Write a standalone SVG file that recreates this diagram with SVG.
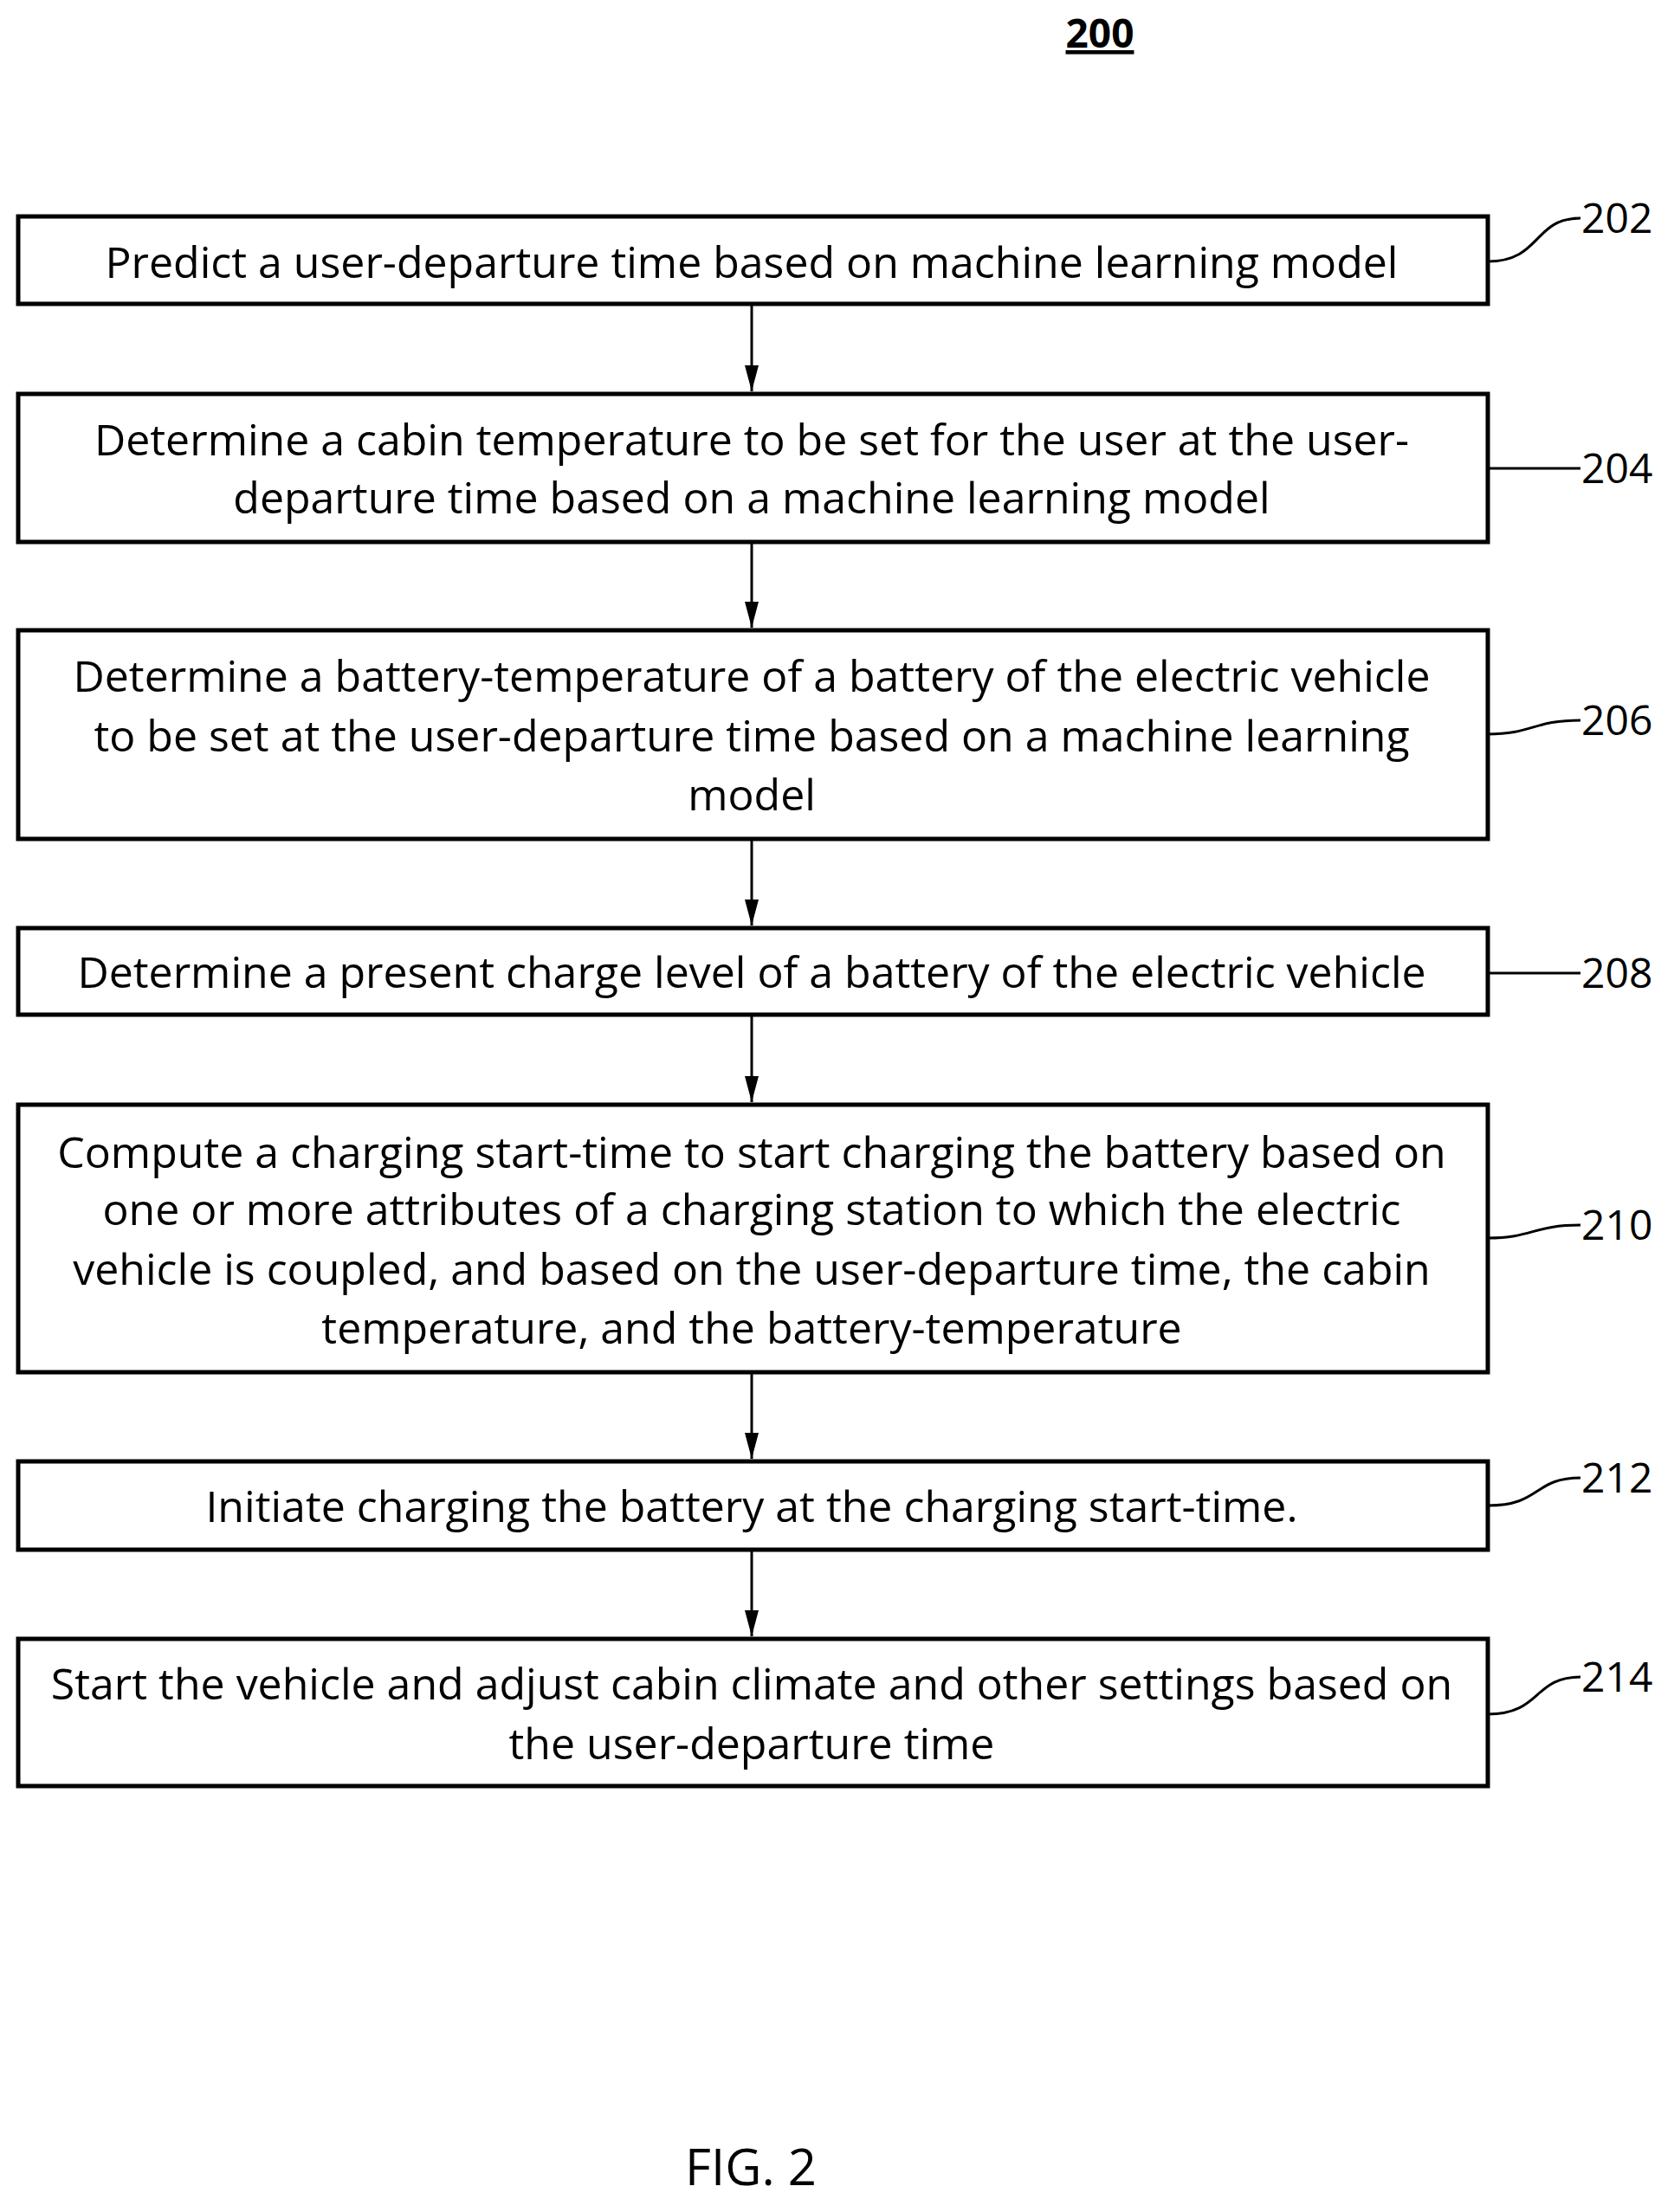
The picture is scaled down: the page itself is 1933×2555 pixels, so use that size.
<svg xmlns="http://www.w3.org/2000/svg" width="1933" height="2555" viewBox="0 0 1933 2555">
<style>
.b{fill:#fff;stroke:#000;stroke-width:5}
.t{font-family:"Open Sans","Liberation Sans",sans-serif;font-size:50px;text-anchor:middle;fill:#000}
.l{font-family:"Open Sans","Liberation Sans",sans-serif;font-size:48px;fill:#000}
.c{fill:none;stroke:#000;stroke-width:3}
.a{stroke:#000;stroke-width:3;marker-end:url(#ar2)}
</style>
<defs>
<marker id="ar2" viewBox="0 0 30 16" refX="30" refY="8" markerWidth="30" markerHeight="16" orient="auto" markerUnits="userSpaceOnUse"><path d="M0,0 L30,8 L0,16 z" fill="#000"/></marker></defs>
<rect width="1933" height="2555" fill="#fff"/>
<text x="1270" y="55" style="font-family:'Open Sans','Liberation Sans',sans-serif;font-size:46px;font-weight:bold;text-anchor:middle;text-decoration:underline">200</text>
<g id="n202"><rect class="b" x="21" y="250" width="1697" height="101"/><text class="t" x="868" y="321">Predict a user-departure time based on machine learning model</text></g>
<g id="n204"><rect class="b" x="21" y="455" width="1697" height="171"/><text class="t" x="868" y="526">Determine a cabin temperature to be set for the user at the user-</text><text class="t" x="868" y="593">departure time based on a machine learning model</text></g>
<g id="n206"><rect class="b" x="21" y="728" width="1697" height="241"/><text class="t" x="868" y="799">Determine a battery-temperature of a battery of the electric vehicle</text><text class="t" x="868" y="868">to be set at the user-departure time based on a machine learning</text><text class="t" x="868" y="936">model</text></g>
<g id="n208"><rect class="b" x="21" y="1072" width="1697" height="100"/><text class="t" x="868" y="1141">Determine a present charge level of a battery of the electric vehicle</text></g>
<g id="n210"><rect class="b" x="21" y="1276" width="1697" height="309"/><text class="t" x="868" y="1349">Compute a charging start-time to start charging the battery based on</text><text class="t" x="868" y="1415">one or more attributes of a charging station to which the electric</text><text class="t" x="868" y="1484">vehicle is coupled, and based on the user-departure time, the cabin</text><text class="t" x="868" y="1552">temperature, and the battery-temperature</text></g>
<g id="n212"><rect class="b" x="21" y="1688" width="1697" height="102"/><text class="t" x="868" y="1758">Initiate charging the battery at the charging start-time.</text></g>
<g id="n214"><rect class="b" x="21" y="1893" width="1697" height="170"/><text class="t" x="868" y="1963">Start the vehicle and adjust cabin climate and other settings based on</text><text class="t" x="868" y="2032">the user-departure time</text></g>
<g id="labels">
<text class="l" x="1826" y="269">202</text><text class="l" x="1826" y="558">204</text><text class="l" x="1826" y="849">206</text><text class="l" x="1826" y="1141">208</text><text class="l" x="1826" y="1432">210</text><text class="l" x="1826" y="1724">212</text><text class="l" x="1826" y="1954">214</text>
</g>
<g id="connectors">
<line class="a" x1="868" y1="353" x2="868" y2="452"/>
<line class="a" x1="868" y1="628" x2="868" y2="725"/>
<line class="a" x1="868" y1="971" x2="868" y2="1069"/>
<line class="a" x1="868" y1="1174" x2="868" y2="1273"/>
<line class="a" x1="868" y1="1587" x2="868" y2="1685"/>
<line class="a" x1="868" y1="1792" x2="868" y2="1890"/>
<path class="c" d="M1718,302 C1780,302 1770,252 1825,252"/>
<line class="c" x1="1718" y1="541" x2="1825" y2="541"/>
<path class="c" d="M1718,848 C1770,848 1770,832 1825,832"/>
<line class="c" x1="1718" y1="1124" x2="1825" y2="1124"/>
<path class="c" d="M1718,1430 C1770,1430 1770,1415 1825,1415"/>
<path class="c" d="M1718,1739 C1780,1739 1770,1707 1825,1707"/>
<path class="c" d="M1718,1980 C1780,1980 1770,1937 1825,1937"/>
</g>
<text x="867" y="2524" style="font-family:'Open Sans','Liberation Sans',sans-serif;font-size:58px;text-anchor:middle">FIG. 2</text>
</svg>
